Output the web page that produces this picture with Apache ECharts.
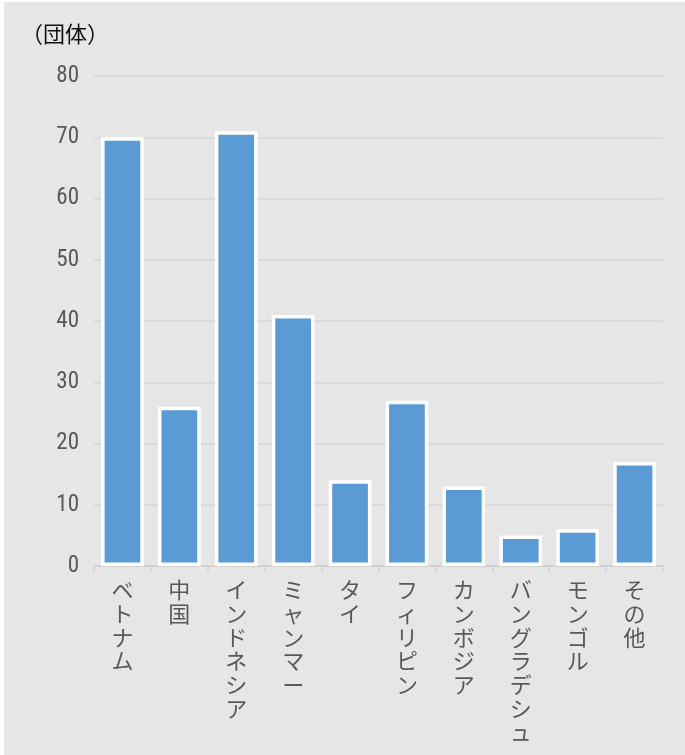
<!DOCTYPE html>
<html>
<head>
<meta charset="utf-8">
<script src="https://cdn.jsdelivr.net/npm/echarts@6/dist/echarts.min.js"></script>
<style>
html,body{margin:0;padding:0;background:#ffffff;}
#c{position:absolute;left:4px;top:2px;width:681px;height:753px;background:#e6e6e6;}
</style>
</head>
<body>
<div id="c"></div>
<script>
const categories = ['ベトナム','中国','インドネシア','ミャンマー','タイ','フィリピン','カンボジア','バングラデシュ','モンゴル','その他'];
const values = [70, 26, 71, 41, 14, 27, 13, 5, 6, 17];
const unitLabel = '（団体）';

const chart = echarts.init(document.getElementById('c'));
chart.setOption({
  backgroundColor: '#e6e6e6',
  animation: false,
  title: {
    text: unitLabel,
    left: 12,
    top: 16,
    textStyle: {fontFamily: 'Noto Sans CJK JP', fontSize: 22, fontWeight: 'normal', color: '#111'}
  },
  grid: {left: 90, right: 22, top: 74, bottom: 189, containLabel: false},
  xAxis: {
    type: 'category',
    data: categories,
    axisLine: {lineStyle: {color: '#d0d0d0', width: 1.5}},
    axisTick: {show: true, length: 6, lineStyle: {color: '#d0d0d0', width: 1.5}},
    axisLabel: {
      interval: 0,
      margin: 12,
      verticalAlign: 'top',
      fontFamily: 'Noto Sans CJK JP',
      fontSize: 22,
      lineHeight: 23.7,
      color: '#595959',
      formatter: v => v.split('').join('\n')
    }
  },
  yAxis: {
    type: 'value',
    min: 0,
    max: 80,
    interval: 10,
    axisLine: {show: false},
    axisTick: {show: false},
    splitLine: {lineStyle: {color: '#d6d6d6', width: 1.5}},
    axisLabel: {
      margin: 15,
      fontFamily: '"Roboto Condensed", "Liberation Sans Narrow", Roboto',
      fontSize: 23,
      color: '#595959'
    }
  },
  series: [{
    type: 'bar',
    data: values,
    barWidth: '75%',
    itemStyle: {color: '#5b9bd5', borderColor: '#ffffff', borderWidth: 3.5}
  }]
});
</script>
</body>
</html>
